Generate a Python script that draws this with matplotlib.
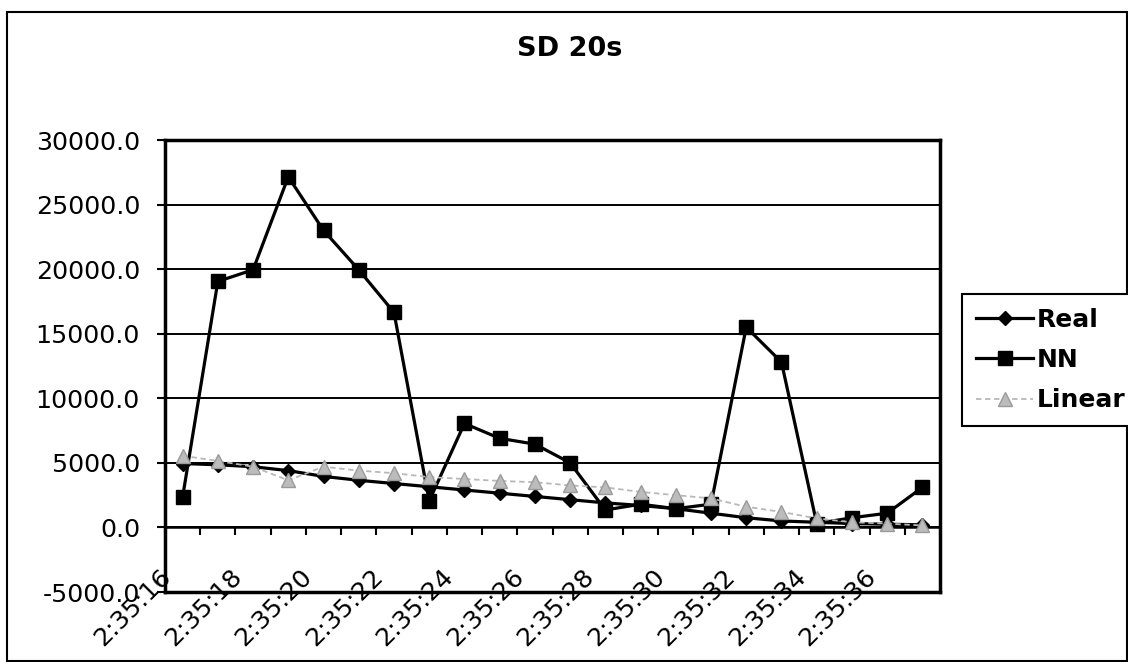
import matplotlib
matplotlib.use("Agg")
import matplotlib.pyplot as plt
import matplotlib.transforms as mtransforms
from matplotlib.patches import Rectangle
import numpy as np

plt.rcParams['font.family'] = ['DejaVu Sans']

categories = ["2:35:16", "2:35:17", "2:35:18", "2:35:19", "2:35:20", "2:35:21",
              "2:35:22", "2:35:23", "2:35:24", "2:35:25", "2:35:26", "2:35:27",
              "2:35:28", "2:35:29", "2:35:30", "2:35:31", "2:35:32", "2:35:33",
              "2:35:34", "2:35:35", "2:35:36", "2:35:37"]
real = [4950, 4850, 4700, 4400, 3950, 3650, 3400, 3150, 2900, 2650, 2400, 2150,
        1900, 1700, 1450, 1100, 750, 500, 400, 300, 250, 200]
nn = [2350, 19050, 19950, 27150, 23000, 19950, 16650, 2050, 8050, 6900, 6450, 5000,
      1350, 1800, 1450, 1800, 15500, 12800, 300, 750, 1100, 3100]
linear = [5550, 5150, 4700, 3650, 4700, 4400, 4200, 3900, 3750, 3600, 3500, 3250,
          3100, 2750, 2500, 2250, 1600, 1200, 700, 400, 300, 150]
yticks = [-5000, 0, 5000, 10000, 15000, 20000, 25000, 30000]
title = "SD 20s"

W, H = 1128, 662
fig = plt.figure(figsize=(W / 100, H / 100), dpi=100)
ax = fig.add_axes([165 / W, 1 - 592 / H, (940 - 165) / W, (592 - 140) / H])

x = np.arange(len(categories)) + 0.5
ax.plot(x, real, color='black', lw=2.3, marker='D', markersize=7.5,
        markerfacecolor='black', markeredgecolor='black', label='Real', zorder=4)
ax.plot(x, nn, color='black', lw=2.3, marker='s', markersize=10.5,
        markerfacecolor='black', markeredgecolor='black', label='NN', zorder=5)
ax.plot(x, linear, color='#b8b8b8', lw=1.3, ls=(0, (3, 2)), marker='^', markersize=10,
        markerfacecolor='#bcbcbc', markeredgecolor='#9a9a9a', label='Linear', zorder=6)

ax.set_xlim(0, len(categories))
ax.set_ylim(yticks[0], yticks[-1])
ax.set_yticks(yticks)
ax.set_yticklabels([f"{v:.1f}" for v in yticks], fontsize=18.3)
ax.tick_params(axis='y', direction='out', length=6, width=1.5, pad=12)
ax.set_xticks([])
ax.yaxis.grid(True, color='black', lw=1.4)
ax.set_axisbelow(True)
for s in ax.spines.values():
    s.set_linewidth(2.5)
    s.set_color('black')

# category axis crossing at y = 0
sec = ax.secondary_xaxis((0 - yticks[0]) / (yticks[-1] - yticks[0]))
sec.set_xticks(np.arange(len(categories) + 1))
sec.tick_params(direction='out', length=6, width=1.5, labelbottom=False, labeltop=False)
for s in sec.spines.values():
    s.set_linewidth(1.8)

# rotated category labels (every second)
base = mtransforms.blended_transform_factory(ax.transData, ax.transAxes)
off = mtransforms.ScaledTranslation(-10 / 100, 14 / 100, fig.dpi_scale_trans)
for i in range(0, len(categories), 2):
    ax.text(x[i], 0, categories[i], transform=base + off, rotation=45,
            rotation_mode='anchor', ha='right', va='baseline', fontsize=18.3,
            clip_on=False)

fig.text(570 / W, 1 - 49 / H, title, ha='center', va='center',
         fontsize=19.5, fontweight='bold')

leg = fig.legend(loc='center left', bbox_to_anchor=(962 / W, 1 - 360 / H),
                 prop={'size': 18, 'weight': 'bold'}, frameon=True, fancybox=False,
                 edgecolor='black', framealpha=1, borderpad=0.55, labelspacing=0.65,
                 handlelength=2.3, handletextpad=0.15, borderaxespad=0)
leg.get_frame().set_linewidth(1.5)

fig.add_artist(Rectangle((7 / W, 1 / H), (W - 8) / W, (649) / H,
                         transform=fig.transFigure, fill=False, lw=1.5,
                         edgecolor='black'))

fig.savefig("out.png", dpi=100)
